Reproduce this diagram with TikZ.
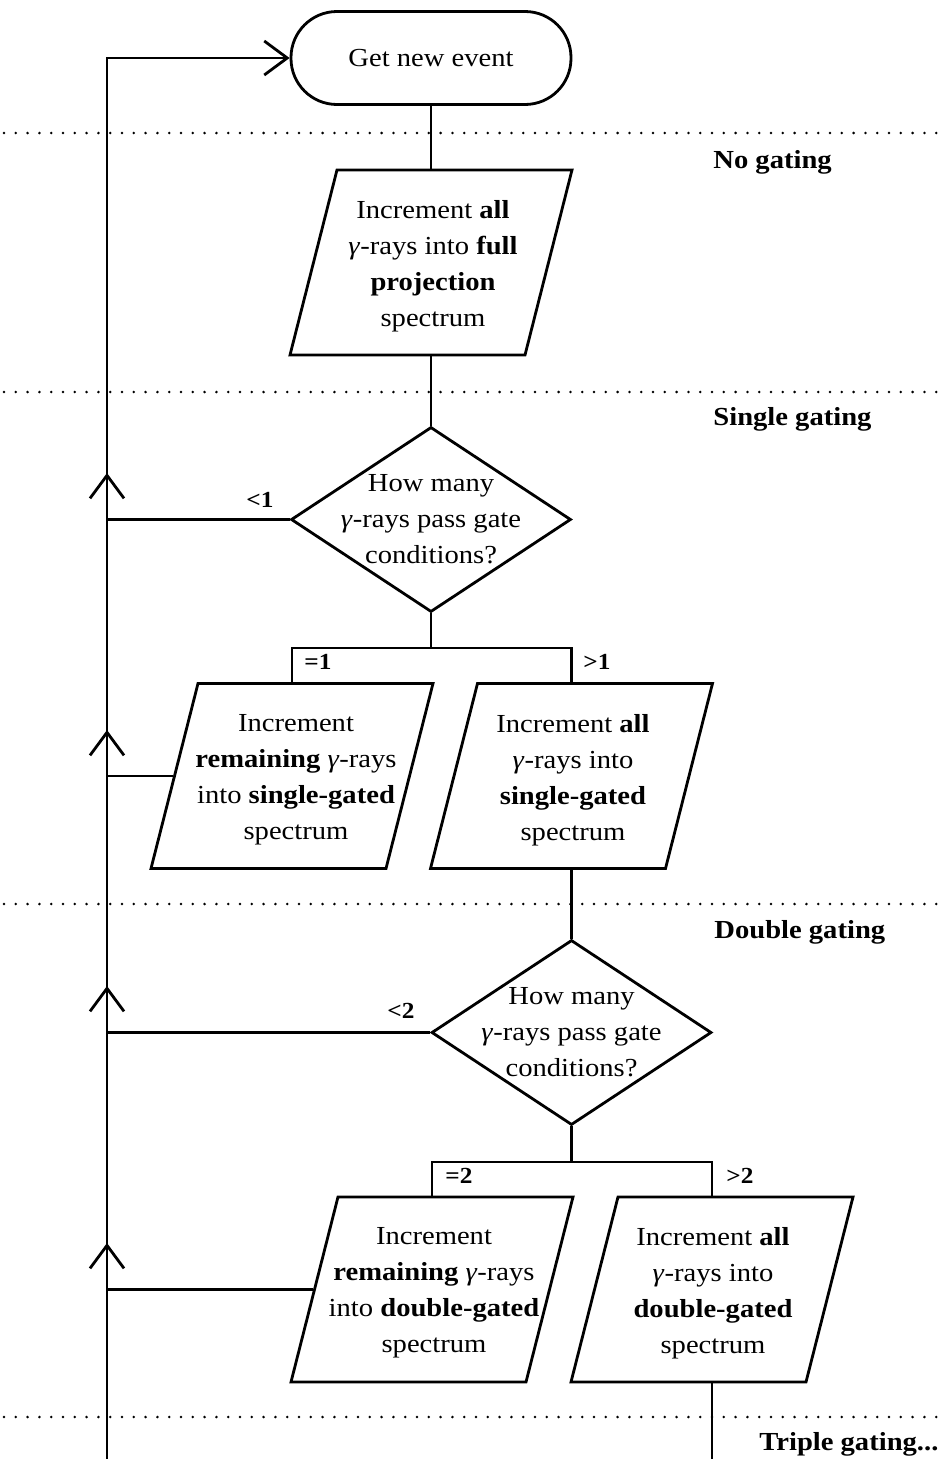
\documentclass[tikz,border=0pt]{standalone}
\usepackage{fontspec}
\setmainfont{Liberation Serif}[FakeStretch=1.1]
\usetikzlibrary{shapes.geometric,arrows.meta,decorations.markings}
\tikzset{mybarb/.tip={Straight Barb[length=23pt,width=34pt]}}
\begin{document}
\begin{tikzpicture}[x=1pt,y=-1pt,line width=2.8pt,
  bodyfont/.style={font=\fontsize{26}{36}\selectfont},
  term/.style={draw,rectangle,rounded corners=46pt,minimum width=280pt,minimum height=93pt,inner sep=0pt,bodyfont},
  io/.style={draw,rectangle,xslant=0.254,minimum width=235pt,minimum height=185pt,inner sep=0pt},
  dec/.style={draw,diamond,minimum width=280pt,minimum height=185pt,inner sep=0pt},
  txt/.style={align=center,inner sep=0pt,bodyfont},
  sec/.style={anchor=base west,inner sep=0pt,font=\fontsize{26}{30}\selectfont\bfseries},
  br/.style={anchor=base,inner sep=0pt,font=\fontsize{23}{26}\selectfont\bfseries},
  sepline/.style={line width=2.8pt,dash pattern=on 0pt off 11.8pt,line cap=round}
]
\useasboundingbox (0,0) rectangle (944,1459);

% separators
\draw[sepline] (4,133) -- (944,133);
\draw[sepline] (4,392) -- (944,392);
\draw[sepline] (4,904) -- (944,904);
\draw[sepline] (4,1417) -- (944,1417);

% section labels
\node[sec] (s0) at (712,168) {No gating};
\node[sec] (s1) at (712,425) {Single gating};
\node[sec] (s2) at (713,938) {Double gating};
\node[sec] (s3) at (758,1450) {Triple gating...};

% nodes
\node[term] (start) at (431,58) {Get new event};
\node[io] (p1) at (431,262.5) {};
\node[txt] (p1t) at (433,266) {Increment \textbf{all}\\\textit{γ}-rays into \textbf{full}\\\textbf{projection}\\spectrum};
\node[dec] (d1) at (431,519.5) {};
\node[txt] (d1t) at (431,519) {How many\\\textit{γ}-rays pass gate\\conditions?};
\node[io] (p2) at (292,776) {};
\node[txt] (p2t) at (296,780) {Increment\\\textbf{remaining} \textit{γ}-rays\\into \textbf{single-gated}\\spectrum};
\node[io] (p3) at (571.5,776) {};
\node[txt] (p3t) at (573,780) {Increment \textbf{all}\\\textit{γ}-rays into\\\textbf{single-gated}\\spectrum};
\node[dec] (d2) at (571.5,1032.5) {};
\node[txt] (d2t) at (571.5,1032) {How many\\\textit{γ}-rays pass gate\\conditions?};
\node[io] (p4) at (432,1289.5) {};
\node[txt] (p4t) at (434,1293) {Increment\\\textbf{remaining} \textit{γ}-rays\\into \textbf{double-gated}\\spectrum};
\node[io] (p5) at (712,1289.5) {};
\node[txt] (p5t) at (713,1293) {Increment \textbf{all}\\\textit{γ}-rays into\\\textbf{double-gated}\\spectrum};

% branch labels
\node[br] (l1) at (260,507) {<1};
\node[br] (e1) at (318,669) {=1};
\node[br] (g1) at (597,669) {>1};
\node[br] (l2) at (401,1018) {<2};
\node[br] (e2) at (459,1183) {=2};
\node[br] (g2) at (740,1183) {>2};

% helper coordinates
\coordinate (spine) at (107,1459);
\coordinate (b1) at (431,648);
\coordinate (b2) at (571.5,1162);
\coordinate (end) at (712,1459);

% connectors
\draw (start.south) -- (p1.north -| p1.center);
\draw (p1.south -| p1.center) -- (d1.north);
\draw (d1.south) -- (b1);
\draw (b1) -| (p2.north -| p2.center);
\draw (b1) -| (p3.north -| p3.center);
\draw (p3.south -| p3.center) -- (d2.north);
\draw (d2.south) -- (b2);
\draw (b2) -| (p4.north -| p4.center);
\draw (b2) -| (p5.north -| p5.center);
\draw (p5.south -| p5.center) -- (end);

% return lines
\draw (d1.west) -- (d1.west -| spine);
\draw (p2.west) -- (p2.west -| spine);
\draw (d2.west) -- (d2.west -| spine);
\draw (p4.west) -- (p4.west -| spine);
\draw[-mybarb,
  postaction={decorate},
  decoration={markings,
    mark=at position 216pt with {\arrow{mybarb}},
    mark=at position 473pt with {\arrow{mybarb}},
    mark=at position 729pt with {\arrow{mybarb}},
    mark=at position 986pt with {\arrow{mybarb}}}]
  (spine) |- (start.west);
\end{tikzpicture}
\end{document}
